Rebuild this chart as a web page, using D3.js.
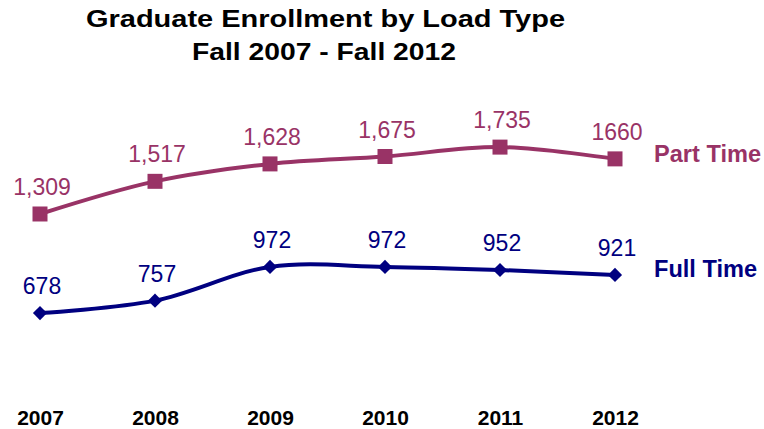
<!DOCTYPE html>
<html>
<head>
<meta charset="utf-8">
<script src="https://cdn.jsdelivr.net/npm/d3@7"></script>
<style>
  body { margin: 0; background: #fff; }
  svg { display: block; font-family: Arial, "Liberation Sans", sans-serif; }
</style>
</head>
<body>
<svg id="chart" width="764" height="429"></svg>
<script>
var years = ["2007", "2008", "2009", "2010", "2011", "2012"];
var partTime = [1309, 1517, 1628, 1675, 1735, 1660];
var fullTime = [678, 757, 972, 972, 952, 921];
var partLabels = ["1,309", "1,517", "1,628", "1,675", "1,735", "1660"];
var fullLabels = ["678", "757", "972", "972", "952", "921"];

var PART_COL = "#993366";
var FULL_COL = "#000080";

var svg = d3.select("#chart");

var xScale = d3.scalePoint()
    .domain(years)
    .range([40, 615]);

var yScale = d3.scaleLinear()
    .domain([0, 2000])
    .range([419.5, 105.5]);

// title, glyphs a bit wider than usual in the original
svg.append("text")
    .attr("x", 86)
    .attr("y", 27)
    .attr("textLength", 479)
    .attr("lengthAdjust", "spacingAndGlyphs")
    .style("font-size", "24px")
    .style("font-weight", "bold")
    .text("Graduate Enrollment by Load Type");

svg.append("text")
    .attr("x", 192)
    .attr("y", 60)
    .attr("textLength", 264)
    .attr("lengthAdjust", "spacingAndGlyphs")
    .style("font-size", "24px")
    .style("font-weight", "bold")
    .text("Fall 2007 - Fall 2012");

// x axis labels (no axis line)
var xAxis = d3.axisBottom(xScale).tickSize(0).tickPadding(0);
var xg = svg.append("g")
    .attr("transform", "translate(0,409)")
    .call(xAxis);
xg.select(".domain").remove();
xg.selectAll("text")
    .attr("dy", 0)
    .attr("y", 16)
    .style("font-family", "Arial, 'Liberation Sans', sans-serif")
    .style("font-size", "21px")
    .style("font-weight", "bold")
    .style("fill", "#000");

var line = d3.line()
    .x(function(d, i) { return xScale(years[i]); })
    .y(function(d) { return yScale(d); })
    .curve(d3.curveCatmullRom.alpha(0.5));

function draw_series(values, labels, col, diamond, name, nameY) {
    var g = svg.append("g");

    g.append("path")
        .datum(values)
        .attr("d", line)
        .attr("fill", "none")
        .attr("stroke", col)
        .attr("stroke-width", 4);

    g.selectAll(".marker")
        .data(values)
        .enter()
        .append("path")
        .attr("class", "marker")
        .attr("d", d3.symbol().type(d3.symbolSquare).size(diamond ? 100 : 225))
        .attr("transform", function(d, i) {
            return "translate(" + xScale(years[i]) + "," + yScale(d) + ")"
                   + (diamond ? " rotate(45)" : ""); })
        .attr("fill", col);

    g.selectAll(".valLabel")
        .data(values)
        .enter()
        .append("text")
        .attr("class", "valLabel")
        .attr("x", function(d, i) { return xScale(years[i]) + 2; })
        .attr("y", function(d) { return yScale(d) - 19; })
        .attr("text-anchor", "middle")
        .style("font-size", "23px")
        .style("fill", col)
        .text(function(d, i) { return labels[i]; });

    g.append("text")
        .attr("x", 654)
        .attr("y", nameY)
        .attr("textLength", name == "Part Time" ? 107 : 103)
        .attr("lengthAdjust", "spacingAndGlyphs")
        .style("font-size", "23px")
        .style("font-weight", "bold")
        .style("fill", col)
        .text(name);
}

draw_series(partTime, partLabels, PART_COL, false, "Part Time", 162);
draw_series(fullTime, fullLabels, FULL_COL, true, "Full Time", 277);
</script>
</body>
</html>
